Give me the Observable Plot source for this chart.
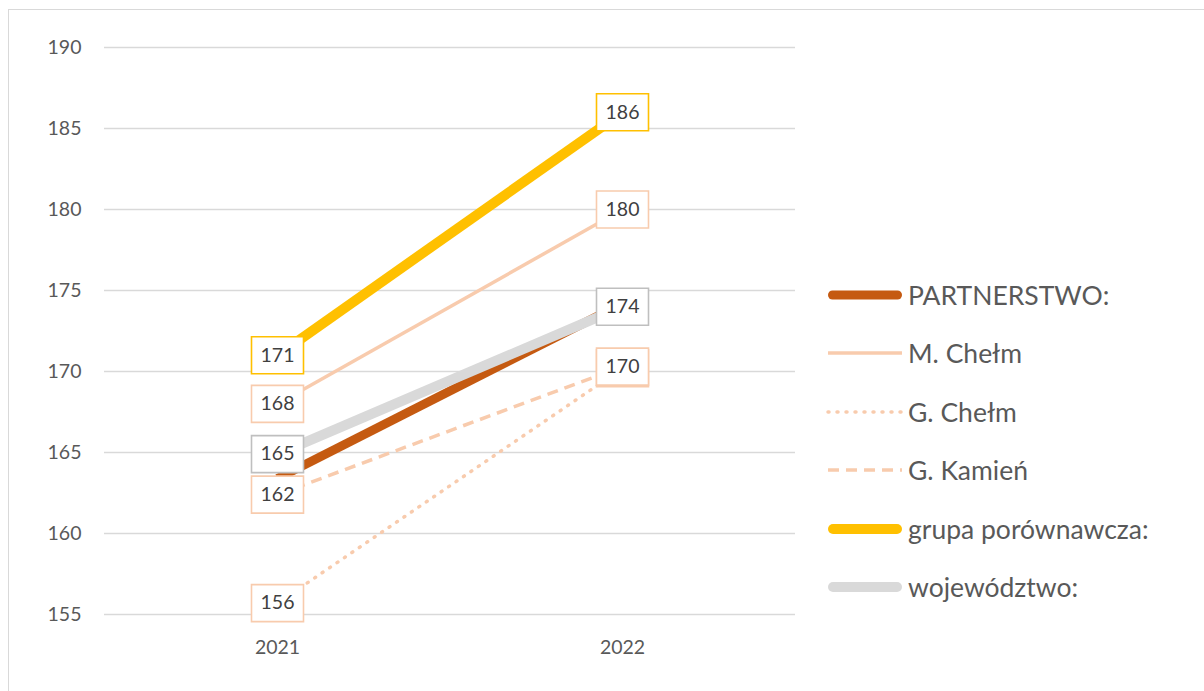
<!DOCTYPE html>
<html>
<head>
<meta charset="utf-8">
<script src="https://cdn.jsdelivr.net/npm/d3@7"></script>
<script src="https://cdn.jsdelivr.net/npm/@observablehq/plot@0.6"></script>
<style>
  html, body { margin: 0; padding: 0; background: #fff; }
  #wrap { position: relative; width: 1204px; height: 691px; overflow: hidden; font-family: Lato, "Open Sans", sans-serif; }
  #frame { position: absolute; left: 8px; top: 9px; width: 1400px; height: 900px; border: 1px solid #D9D9D9; box-sizing: border-box; }
  #chart { position: absolute; left: 0; top: 0; }
  #legend { position: absolute; left: 0; top: 0; }
  .item { position: absolute; left: 824px; height: 40px; display: flex; align-items: center; }
  .item span { font-size: 26.5px; color: #595959; margin-left: 2px; white-space: nowrap; }
</style>
</head>
<body>
<div id="wrap">
  <div id="frame"></div>
  <div id="chart"></div>
  <div id="legend"></div>
</div>
<script>
// ---- data ----
const years = ["2021", "2022"];
const yTicks = [155, 160, 165, 170, 175, 180, 185, 190];
const seriesNames = ["PARTNERSTWO:", "M. Chełm", "G. Chełm", "G. Kamień", "grupa porównawcza:", "województwo:"];
const partnerstwo = [163.4, 174.2];
const mChelm = [168, 180];
const gChelm = [155.7, 170.2];
const gKamien = [162.4, 170.3];
const grupa = [171, 186];
const wojewodztwo = [164.9, 174.0];
const seriesValues = [partnerstwo, mChelm, gChelm, gKamien, grupa, wojewodztwo];
const labelled = [false, true, true, true, true, true];

// ---- styles ----
const styles = [
  {stroke: "#C55A11", width: 9, dash: null, box: null},
  {stroke: "#F8CBAD", width: 3.5, dash: null, box: "#F8CBAD"},
  {stroke: "#F8CBAD", width: 3.5, dash: "1,8", cap: "round", box: "#F8CBAD"},
  {stroke: "#F8CBAD", width: 3.5, dash: "11,7", box: "#F8CBAD"},
  {stroke: "#FFC000", width: 10, dash: null, box: "#FFC000"},
  {stroke: "#D9D9D9", width: 10, dash: null, box: "#BFBFBF"}
];

const rows = [];
seriesNames.forEach((name, i) => {
  years.forEach((yr, j) => rows.push({series: name, idx: i, year: yr, value: seriesValues[i][j]}));
});

const boxSymbol = { draw(ctx) { ctx.rect(-26, -18.5, 52, 37); } };

const marks = [
  Plot.ruleY(yTicks, {stroke: "#D9D9D9", strokeWidth: 1.3}),
  Plot.axisY(yTicks, {tickSize: 0, tickPadding: 23, fontSize: 19.5, color: "#595959", label: null}),
  Plot.axisX({tickSize: 0, tickPadding: 26, fontSize: 19.5, color: "#595959", label: null})
];
seriesNames.forEach((name, i) => {
  const s = styles[i];
  marks.push(Plot.line(rows.filter(r => r.idx === i), {
    x: "year", y: "value", stroke: s.stroke, strokeWidth: s.width,
    strokeDasharray: s.dash || undefined, strokeLinecap: s.cap || "butt"
  }));
});
seriesNames.forEach((name, i) => {
  if (!labelled[i]) return;
  const s = styles[i];
  const data = rows.filter(r => r.idx === i);
  marks.push(Plot.dot(data, {x: "year", y: "value", symbol: boxSymbol, fill: "white", stroke: s.box, strokeWidth: 1.6}));
  marks.push(Plot.text(data, {x: "year", y: "value", text: d => d3.format(".0f")(d.value), fontSize: 19.5, fill: "#404040"}));
});

const chart = Plot.plot({
  width: 1204,
  height: 691,
  marginLeft: 104,
  marginRight: 409,
  marginTop: 47,
  marginBottom: 77,
  style: {fontFamily: "Lato, 'Open Sans', sans-serif", background: "transparent"},
  x: {type: "point", domain: years, padding: 0.5, label: null},
  y: {domain: [155, 190], label: null},
  marks
});
document.getElementById("chart").appendChild(chart);

// ---- legend ----
const legend = document.getElementById("legend");
const rowTop = 295, rowStep = 58.4;
seriesNames.forEach((name, i) => {
  const s = styles[i];
  const div = document.createElement("div");
  div.className = "item";
  div.style.top = (rowTop + i * rowStep - 20) + "px";
  const svg = d3.create("svg").attr("width", 82).attr("height", 40);
  svg.append("line").attr("x1", 4 + (s.width > 5 ? s.width / 2 : 0)).attr("x2", 78 - (s.width > 5 ? s.width / 2 : 0))
    .attr("y1", 20).attr("y2", 20)
    .attr("stroke", s.stroke).attr("stroke-width", s.width)
    .attr("stroke-linecap", s.width > 5 ? "round" : (s.cap || "butt"))
    .attr("stroke-dasharray", s.dash);
  div.appendChild(svg.node());
  const span = document.createElement("span");
  span.textContent = name;
  div.appendChild(span);
  legend.appendChild(div);
});
</script>
</body>
</html>
